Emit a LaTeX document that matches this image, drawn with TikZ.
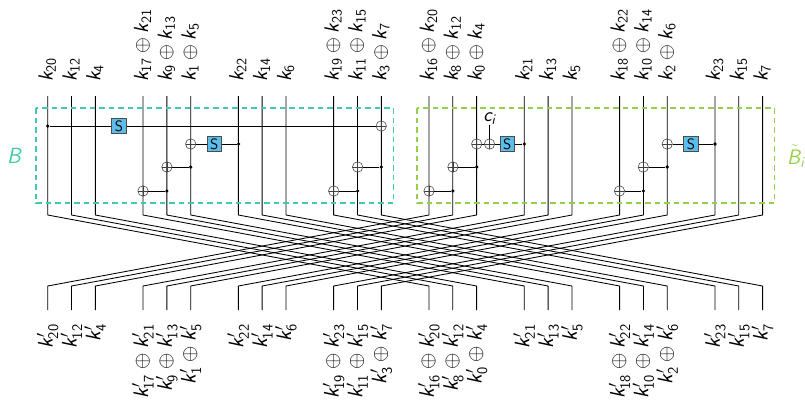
\RequirePackage{fix-cm}
\documentclass[tikz,border=0pt]{standalone}
\usepackage{amsmath}
\usetikzlibrary{calc}
\DeclareMathAlphabet{\mathsfit}{OT1}{cmss}{m}{sl}
\newcommand{\kk}[1]{\mathsfit{k}_{\mathsf{#1}}}
\newcommand{\kp}[1]{\mathsfit{k}'_{\mathsf{#1}}}
\definecolor{teal1}{HTML}{3FCBA6}
\definecolor{green1}{HTML}{96D04A}
\definecolor{sbox}{HTML}{5CBDEB}
\tikzset{
  x=1pt,y=-1pt,
  wire/.style={line width=0.85pt,black},
  link/.style={line width=0.85pt,black},
  dot/.style={circle,fill=black,inner sep=0pt,minimum size=3.6pt},
  xorgate/.style={circle,draw=black!75,line width=0.55pt,inner sep=0pt,minimum size=10.4pt,
    path picture={\draw[black!75,line width=0.55pt]
      (path picture bounding box.north)--(path picture bounding box.south)
      (path picture bounding box.west)--(path picture bounding box.east);}},
  sboxnode/.style={rectangle,draw=black!70,fill=sbox,line width=0.85pt,inner sep=0pt,
    minimum size=14.5pt,font=\fontsize{15}{16}\selectfont\sffamily},
  toplab/.style={rotate=90,scale=1.02,anchor=base west,inner sep=0pt,font=\fontsize{20}{22}\selectfont},
  botlab/.style={rotate=90,scale=1.05,anchor=base east,inner sep=0pt,font=\fontsize{20}{22}\selectfont},
  blockB/.style={draw=teal1,line width=1.1pt,dash pattern=on 5.5pt off 4pt},
  blockT/.style={draw=green1,line width=1.1pt,dash pattern=on 5.5pt off 4pt},
}
\begin{document}
\begin{tikzpicture}
\useasboundingbox (0,0) rectangle (805,400);
% wires
\foreach \n in {0,1,2,4,5,6,8,9,10,12,13,14,16,17,18,20,21,22,24,25,26,28,29,30}{
  \pgfmathsetmacro{\xx}{47.7+23.83*\n}
  \coordinate (t\n) at (\xx,96);
  \coordinate (u\n) at (\xx,215);
  \coordinate (v\n) at (\xx,286);
  \coordinate (b\n) at (\xx,310);
}
\foreach \n in {0,1,2,4,5,6,8,9,10,12,13,14,16,17,18,20,21,22,24,25,26,28,29,30}{
  \pgfmathtruncatemacro{\m}{mod(\n+16,32)}
  \draw[wire,line join=round] (t\n)--(u\n)--(v\m)--(b\m);
}
% blocks
\draw[blockB] (36,108) rectangle (393.3,203);
\draw[blockT] (417,108) rectangle (774.3,203);
\node[text=teal1,scale=1.1,font=\fontsize{20}{22}\selectfont] (lB) at (15,156) {$\mathsfit{B}$};
\node[text=green1,scale=1.05,font=\fontsize{20}{22}\selectfont,anchor=base west,inner sep=0pt] (lT) at (787,164) {$\tilde{\mathsfit{B}}_{\mathsfit{i}}$};
% gates
\node[dot] (d1) at (47.7,126) {};
\node[sboxnode] (s1) at (119,126) {S};
\node[xorgate] (x1) at (381.3,126) {};
\draw[link] (d1)--(s1) (s1)--(x1);
\node[xorgate] (x2) at (190.7,144) {};
\node[sboxnode] (s2) at (214.3,144) {S};
\node[dot] (d2) at (238.6,144) {};
\draw[link] (x2)--(s2) (s2)--(d2);
\node[xorgate] (x3) at (166.9,167) {};
\node[dot] (d3) at (190.7,167) {};
\draw[link] (x3)--(d3);
\node[xorgate] (x4) at (143,191) {};
\node[dot] (d4) at (166.9,191) {};
\draw[link] (x4)--(d4);
\node[xorgate] (x5) at (357.6,167) {};
\node[dot] (d5) at (381.3,167) {};
\draw[link] (x5)--(d5);
\node[xorgate] (x6) at (333.7,191) {};
\node[dot] (d6) at (357.6,191) {};
\draw[link] (x6)--(d6);
\node[xorgate] (x7) at (476.7,144) {};
\node[xorgate] (x8) at (489.5,144) {};
\node[sboxnode] (s3) at (507.3,144) {S};
\node[dot] (d7) at (524.4,144) {};
\draw[link] (x7)--(x8) (x8)--(s3) (s3)--(d7);
\node[font=\fontsize{20}{22}\selectfont,inner sep=0pt] (ci) at (490,118.5) {$\mathsfit{c}_{\mathsfit{i}}$};
\draw[link] (ci.south -| x8)--(x8);
\node[xorgate] (x9) at (452.9,167) {};
\node[dot] (d8) at (476.7,167) {};
\draw[link] (x9)--(d8);
\node[xorgate] (x10) at (429,191) {};
\node[dot] (d9) at (452.9,191) {};
\draw[link] (x10)--(d9);
\node[xorgate] (x11) at (667.2,144) {};
\node[sboxnode] (s4) at (691,144) {S};
\node[dot] (d10) at (715,144) {};
\draw[link] (x11)--(s4) (s4)--(d10);
\node[xorgate] (x12) at (643.3,167) {};
\node[dot] (d11) at (667.2,167) {};
\draw[link] (x12)--(d11);
\node[xorgate] (x13) at (619.5,191) {};
\node[dot] (d12) at (643.3,191) {};
\draw[link] (x13)--(d12);
% labels
\foreach \n/\a/\b in {0/20/,1/12/,2/4/,4/17/21,5/9/13,6/1/5,8/22/,9/14/,10/6/,12/19/23,13/11/15,14/3/7,16/16/20,17/8/12,18/0/4,20/21/,21/13/,22/5/,24/18/22,25/10/14,26/2/6,28/23/,29/15/,30/7/}{
  \pgfmathsetmacro{\xx}{47.7+23.83*\n+5}
  \if\relax\b\relax
    \node[toplab] (tl\n) at (\xx,82) {$\kk{\a}$};
    \node[botlab] (bl\n) at (\xx,324) {$\kp{\a}$};
  \else
    \node[toplab] (tl\n) at (\xx,82) {$\kk{\a}\oplus\kk{\b}$};
    \node[botlab] (bl\n) at (\xx,324) {$\kp{\a}\oplus\kp{\b}$};
  \fi
}
\end{tikzpicture}
\end{document}
